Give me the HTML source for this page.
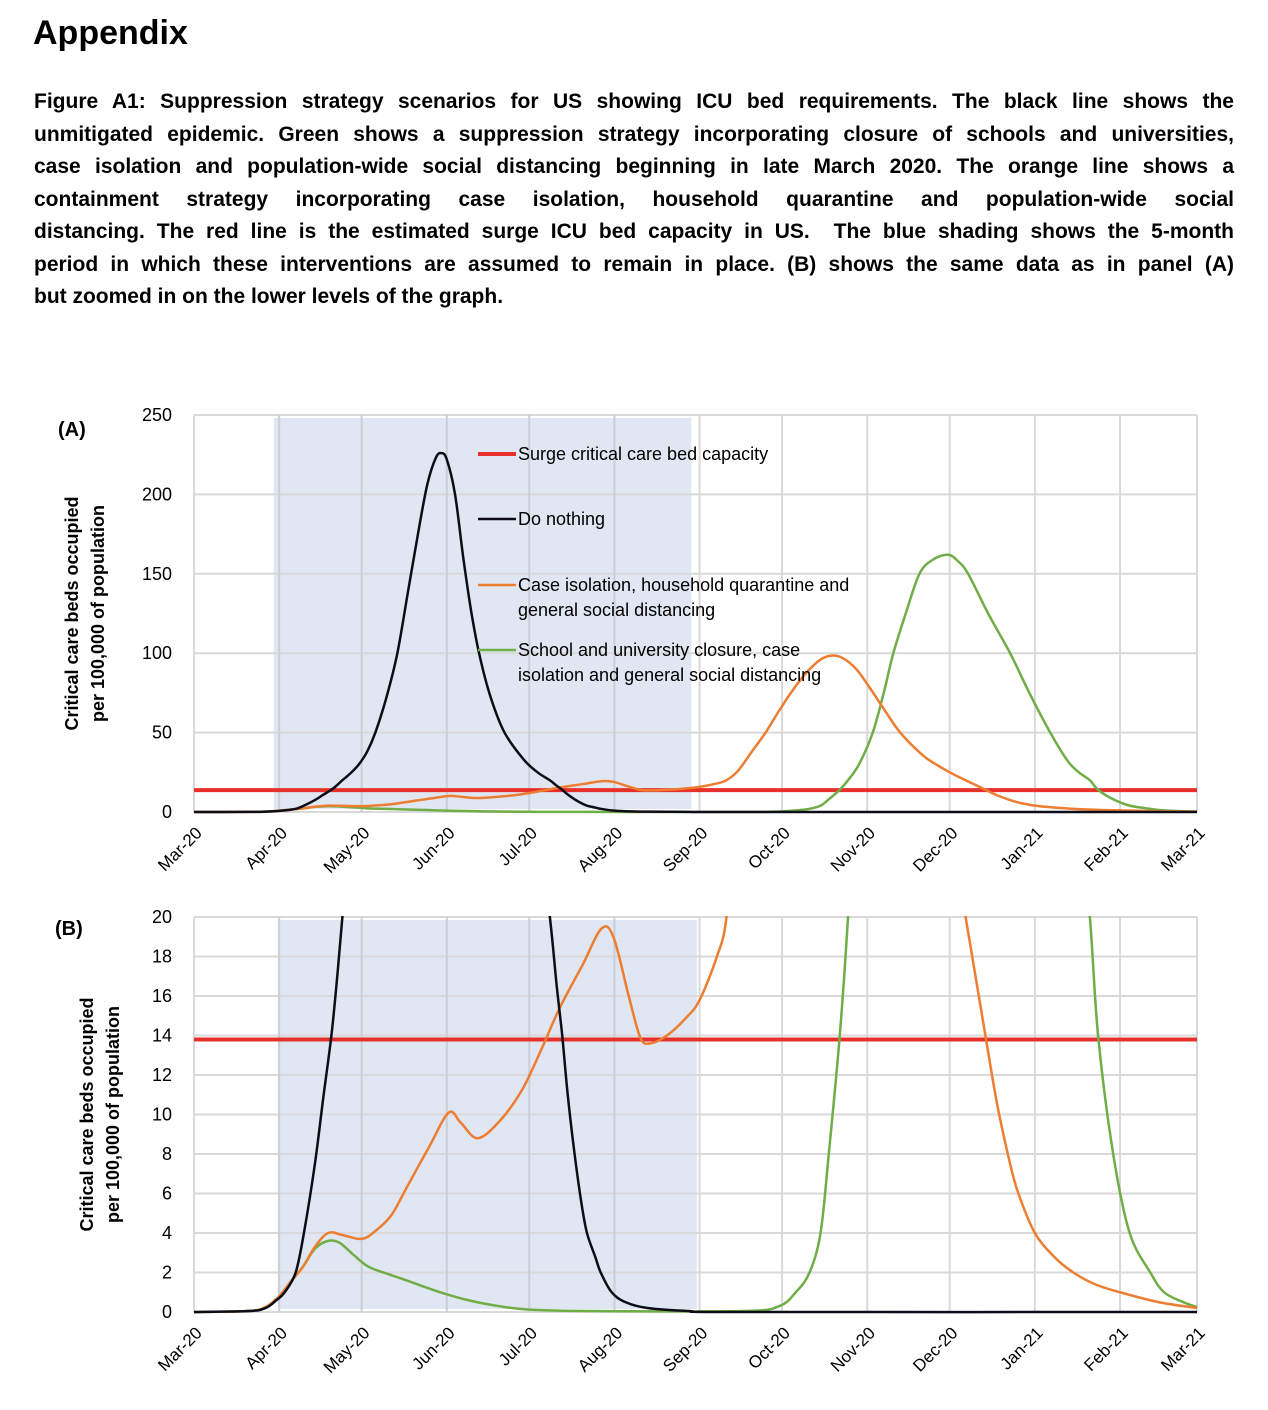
<!DOCTYPE html>
<html><head><meta charset="utf-8">
<style>
body{margin:0;background:#fff;width:1268px;height:1410px;overflow:hidden;font-family:"Liberation Sans",sans-serif;}
#title{position:absolute;left:33px;top:14px;font-size:34px;font-weight:bold;margin:0;}
#caption{position:absolute;left:34px;top:86px;width:1200px;font-size:21px;font-weight:bold;line-height:32.5px;margin:0;}
#caption div{text-align:justify;text-align-last:justify;white-space:nowrap;}
#caption div.last{text-align-last:left;}
svg{position:absolute;left:0;top:0;}
text{font-family:"Liberation Sans",sans-serif;}
</style></head><body>
<h1 id="title">Appendix</h1>
<div id="caption">
<div>Figure A1: Suppression strategy scenarios for US showing ICU bed requirements. The black line shows the</div>
<div>unmitigated epidemic. Green shows a suppression strategy incorporating closure of schools and universities,</div>
<div>case isolation and population-wide social distancing beginning in late March 2020. The orange line shows a</div>
<div>containment strategy incorporating case isolation, household quarantine and population-wide social</div>
<div>distancing. The red line is the estimated surge ICU bed capacity in US.&nbsp; The blue shading shows the 5-month</div>
<div>period in which these interventions are assumed to remain in place. (B) shows the same data as in panel (A)</div>
<div class="last">but zoomed in on the lower levels of the graph.</div>
</div>
<svg id="chart" width="1268" height="1410" xmlns="http://www.w3.org/2000/svg"></svg>
<script>
const monthLabels=["Mar-20","Apr-20","May-20","Jun-20","Jul-20","Aug-20","Sep-20","Oct-20","Nov-20","Dec-20","Jan-21","Feb-21","Mar-21"];
const monthDays=[0,31,61,92,122,153,184,214,245,275,306,337,365];
const surgeCapacity=13.8;
const doNothing=[[0,0],[20,0.05],[26,0.2],[30,0.6],[33,1],[37,2],[40,4],[44,7.5],[47,10.8],[50,14],[52,16.8],[54,20],[57,24.5],[60,30],[63,38],[66,50],[70,72],[74,100],[78,140],[82,180],[85,207],[88,223],[90,226],[92,222],[95,200],[98,160],[101,125],[104,98],[108,72],[113,50],[120,33],[125,25],[129.5,20],[132,16.5],[134,14],[136,11],[138.5,8],[141,5.5],[143,4],[146,2.8],[148,2],[152,1],[157,0.5],[165,0.2],[180,0.05],[200,0],[365,0]];
const caseIsolation=[[0,0],[20,0.05],[26,0.25],[31,0.8],[35,1.5],[39.7,2.3],[44,3.3],[48.8,4.0],[54,3.9],[61,3.7],[66,4.1],[71.8,4.9],[77.4,6.3],[85.7,8.4],[92.7,10.1],[97,9.6],[103.1,8.8],[110.8,9.6],[119.2,11.2],[126.1,13.2],[133.1,15.4],[141.5,17.6],[148.2,19.4],[152.6,19.0],[158.2,16],[162.4,13.9],[165.9,13.6],[172.1,14.0],[179.1,14.9],[184,15.8],[190.3,18],[193.8,20],[198,26],[203,38],[208,50],[213,64],[218,77],[223,88],[228,96],[232,98.5],[236,97],[241,90],[246,78],[251,65],[257,50],[265,36],[270,30],[275,25],[279,21.5],[282,19],[285,16.5],[288,14],[291,11.5],[293,10],[297,7.5],[300,6],[306,4],[313,2.8],[320,2],[328,1.4],[337,1],[351,0.5],[365,0.2]];
const schoolClosure=[[0,0],[20,0.05],[26,0.25],[31,0.8],[35,1.5],[39.7,2.3],[44,3.2],[48.8,3.6],[53,3.5],[58,2.9],[63.4,2.3],[70,1.95],[77.4,1.6],[88.5,1.05],[99.7,0.6],[110.8,0.3],[122,0.12],[144,0.05],[200,0.05],[213,0.3],[219,1],[224,2],[228,4],[231,8],[235,14],[238,20],[242,30],[247,50],[251,75],[254.5,100],[259,125],[264,150],[269,159],[274.4,162],[278,158],[281.7,150],[289,125],[297,100],[304,75],[311.6,50],[318,32],[322,25],[326,20],[329,14],[334.5,8],[340.5,4],[348,2],[353,1],[360,0.5],[365,0.25]];

const svg=document.getElementById('chart');
const NS='http://www.w3.org/2000/svg';
function el(tag,attrs,parent){const e=document.createElementNS(NS,tag);for(const k in attrs)e.setAttribute(k,attrs[k]);(parent||svg).appendChild(e);return e;}
const X0=194,X1=1197;
function xs(d){return X0+d/365*(X1-X0);}

function panel(id,top,bottom,ymax,step,shadeStart,shadeEnd,withLegend,label,titleX){
  const g=el('g',{});
  
  
  const ys=v=>bottom-v/ymax*(bottom-top);
  const sh=el('rect',{x:xs(shadeStart),y:top+3,width:xs(shadeEnd)-xs(shadeStart),height:bottom-top-6,fill:'#e1e7f2'},g);
  
  
  for(let v=0;v<=ymax+1e-9;v+=step){
    const l=el('line',{x1:X0,x2:X1,y1:ys(v),y2:ys(v),stroke:'#d9d9d9','stroke-width':2},g);
    
    
    const t=el('text',{x:172,y:ys(v)+6,'text-anchor':'end','font-size':18,fill:'#000'},g);
    t.textContent=String(Math.round(v));
    
    
  }
  monthDays.forEach((d,i)=>{
    const l=el('line',{x1:xs(d),x2:xs(d),y1:top,y2:bottom,stroke:(d>shadeStart&&d<shadeEnd)?'#c9ced8':'#d9d9d9','stroke-width':2},g);
    
    
    const t=el('text',{x:0,y:0,'text-anchor':'end','font-size':17,fill:'#000',transform:'translate('+(xs(d)+9)+','+(bottom+22)+') rotate(-45)'},g);
    t.textContent=monthLabels[i];
    
    
  });
  const cp=el('clipPath',{id:'clip'+id},g);
  el('rect',{x:X0-2,y:top-1,width:X1-X0+4,height:bottom-top+3},cp);
  const series=[[schoolClosure,'#70ad47','series-school-closure'],[caseIsolation,'#ed7d31','series-case-isolation'],[doNothing,'#0d0d1a','series-do-nothing']];
  const rl=el('line',{x1:X0,x2:X1,y1:ys(surgeCapacity),y2:ys(surgeCapacity),stroke:'#e8302a','stroke-width':4},g);
  
  
  series.forEach(s=>{
    const pts=s[0].map(p=>[xs(p[0]),ys(p[1])]);
    let dd='M'+pts[0][0]+','+pts[0][1];
    for(let i=0;i<pts.length-1;i++){
      const p0=pts[Math.max(0,i-1)],p1=pts[i],p2=pts[i+1],p3=pts[Math.min(pts.length-1,i+2)];
      const c1=[p1[0]+(p2[0]-p0[0])/6,p1[1]+(p2[1]-p0[1])/6],c2=[p2[0]-(p3[0]-p1[0])/6,p2[1]-(p3[1]-p1[1])/6];
      dd+=' C'+c1[0]+','+c1[1]+' '+c2[0]+','+c2[1]+' '+p2[0]+','+p2[1];
    }
    const p=el('path',{d:dd,fill:'none',stroke:s[1],'stroke-width':2.5,'clip-path':'url(#clip'+id+')'},g);
    
    
  });
  const lb=el('text',{x:label[0],y:label[1],'font-size':20,'font-weight':'bold'},g);
  lb.textContent=label[2];
  
  
  const cy=(top+bottom)/2;
  const tt=el('text',{x:0,y:0,'text-anchor':'middle','font-size':18,'font-weight':'bold',transform:'translate('+titleX+','+cy+') rotate(-90)'},g);
  
  
  const s1=el('tspan',{x:0,dy:0},tt);s1.textContent='Critical care beds occupied';
  const s2=el('tspan',{x:0,dy:26},tt);s2.textContent='per 100,000 of population';
  if(withLegend){
    const items=[['#e8302a',454,['Surge critical care bed capacity'],'legend-surge'],['#0d0d1a',519,['Do nothing'],'legend-do-nothing'],['#ed7d31',585,['Case isolation, household quarantine and','general social distancing'],'legend-case-isolation'],['#70ad47',650,['School and university closure, case','isolation and general social distancing'],'legend-school-closure']];
    items.forEach(it=>{
      const lg=el('g',{},g);
      
      
      el('line',{x1:478,x2:516,y1:it[1],y2:it[1],stroke:it[0],'stroke-width':it[0]=='#e8302a'?4:2.5},lg);
      it[2].forEach((s,j)=>{const t=el('text',{x:518,y:it[1]+6+j*25,'font-size':18},lg);t.textContent=s;});
    });
  }
}
panel('a',415,812,250,50,29,181,true,[58,436,'(A)'],78);
panel('b',917,1312,20,2,30.5,183,false,[55,935,'(B)'],93);
</script>
</body></html>
